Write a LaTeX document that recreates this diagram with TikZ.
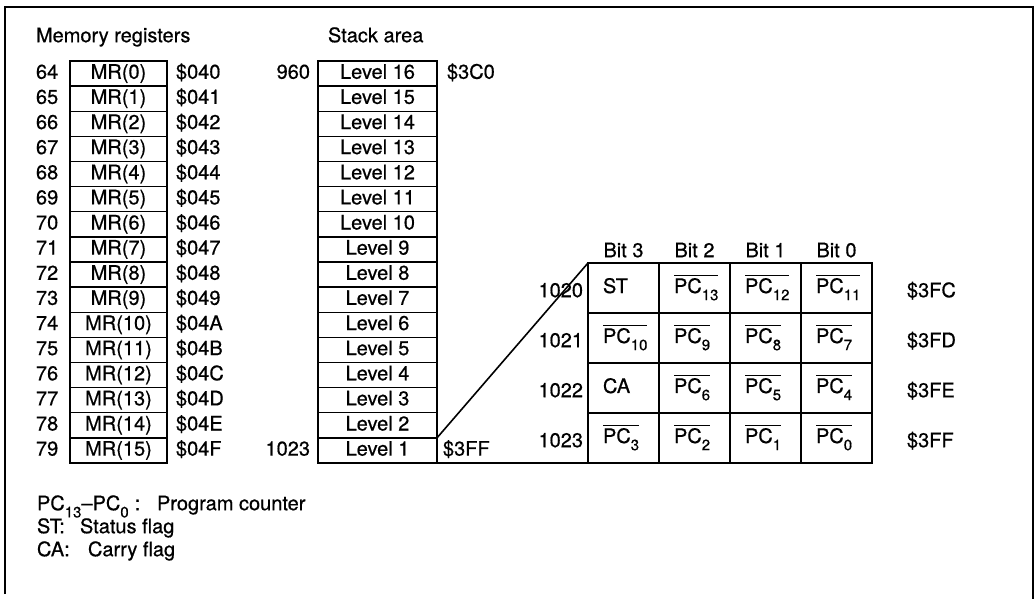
\documentclass[tikz,border=0pt]{standalone}
\usepackage{fontspec}
\setmainfont{TeX Gyre Heros}[FakeBold=0.6]
\usetikzlibrary{fit,calc}
\newcommand{\sub}[1]{\raisebox{-3.6pt}{\fontsize{7.5}{8}\selectfont #1}}
\newcommand{\ovl}[1]{$\overline{\hbox{#1}}$}
\newcommand{\pcb}[1]{\ovl{PC\sub{#1}}}
\begin{document}
\begin{tikzpicture}[x=0.5pt,y=-0.5pt,
  every node/.style={inner sep=0pt, outer sep=0pt, font=\fontsize{10}{12}\selectfont, text height=7.2pt, text depth=2pt},
  mrcell/.style={draw, line width=0.7pt, minimum width=48.5pt, minimum height=12.5625pt},
  stcell/.style={draw, line width=0.7pt, minimum width=59.5pt, minimum height=12.5625pt},
  bitcell/.style={draw, line width=1pt, minimum width=35.5pt, minimum height=25pt, text width=20.5pt, inner xsep=7.5pt, align=left, text height=8pt, text depth=3pt},
  lbl/.style={anchor=west},
  rlbl/.style={anchor=east},
  outer/.style={draw, line width=1pt, fit=#1, inner sep=0pt},
  leg/.style={anchor=west},
  frame/.style={line width=1pt},
  conn/.style={line width=0.8pt}]
\useasboundingbox (0,0) rectangle (1035,599);
\draw[frame] (5,594) -- (5,7) -- (1033,7) -- (1033,599);

% titles
\node[lbl] (tmr) at (36,37) {Memory registers};
\node[lbl] (tst) at (328,37) {Stack area};

% memory registers
\foreach \i/\h in {0/0,1/1,2/2,3/3,4/4,5/5,6/6,7/7,8/8,9/9,10/A,11/B,12/C,13/D,14/E,15/F} {
  \pgfmathsetmacro\yy{61+25.125*(\i+0.5)}
  \pgfmathtruncatemacro\dec{64+\i}
  \node[mrcell] (mr\i) at (118.5,\yy) {MR(\i)};
  \node[lbl] (n\i) at (36,\yy) {\dec};
  \node[lbl] (h\i) at (176,\yy) {\$04\h};
}
\node[outer=(mr0)(mr15)] (mrbox) {};

% stack
\foreach \i in {0,...,15} {
  \pgfmathsetmacro\yy{61+25.125*(\i+0.5)}
  \pgfmathtruncatemacro\lev{16-\i}
  \node[stcell] (L\lev) at (377.5,\yy) {Level \lev};
}
\node[outer=(L16)(L1)] (stbox) {};
\node[rlbl] (s960) at ($(L16.west)+(-8,0)$) {960};
\node[lbl] (s3c0) at ($(L16.east)+(10,0)$) {\$3C0};
\node[rlbl] (s1023) at ($(L1.west)+(-8,0)$) {1023};
\node[lbl] (s3ff) at ($(L1.east)+(6,0)$) {\$3FF};

% bit table
\foreach \c/\b in {0/3,1/2,2/1,3/0} {
  \node (bh\c) at (623.5+71*\c,252) {Bit \b};
}
\foreach \r/\a/\bb/\cc/\dd/\dec/\hx in {
  0/{ST}/{\pcb{13}}/{\pcb{12}}/{\pcb{11}}/1020/3FC,
  1/{\pcb{10}}/{\pcb{9}}/{\pcb{8}}/{\pcb{7}}/1021/3FD,
  2/{CA}/{\pcb{6}}/{\pcb{5}}/{\pcb{4}}/1022/3FE,
  3/{\pcb{3}}/{\pcb{2}}/{\pcb{1}}/{\pcb{0}}/1023/3FF} {
  \pgfmathsetmacro\yy{288+50*\r}
  \node[bitcell] (c0\r) at (623.5,\yy) {\a};
  \node[bitcell] (c1\r) at (694.5,\yy) {\bb};
  \node[bitcell] (c2\r) at (765.5,\yy) {\cc};
  \node[bitcell] (c3\r) at (836.5,\yy) {\dd};
  \node[rlbl] (rd\r) at ($(c0\r.west)+(-5,4)$) {\dec};
  \node[lbl] (rh\r) at ($(c3\r.east)+(35,4)$) {\$\hx};
}

% connectors
\draw[conn] (L1.north east) -- (c00.north west);
\draw[line width=1pt] (L1.south east) -- (c33.south east);

% legend
\node[leg] (lg1) at (37,505) {PC\sub{13}--PC\sub{0}\hspace{3pt}:};
\node[leg] (lg1d) at (157,505) {Program counter};
\node[leg] (lg2) at (37,528) {ST:};
\node[leg] (lg2d) at (80,528) {Status flag};
\node[leg] (lg3) at (37,551) {CA:};
\node[leg] (lg3d) at (88,551) {Carry flag};
\end{tikzpicture}
\end{document}
